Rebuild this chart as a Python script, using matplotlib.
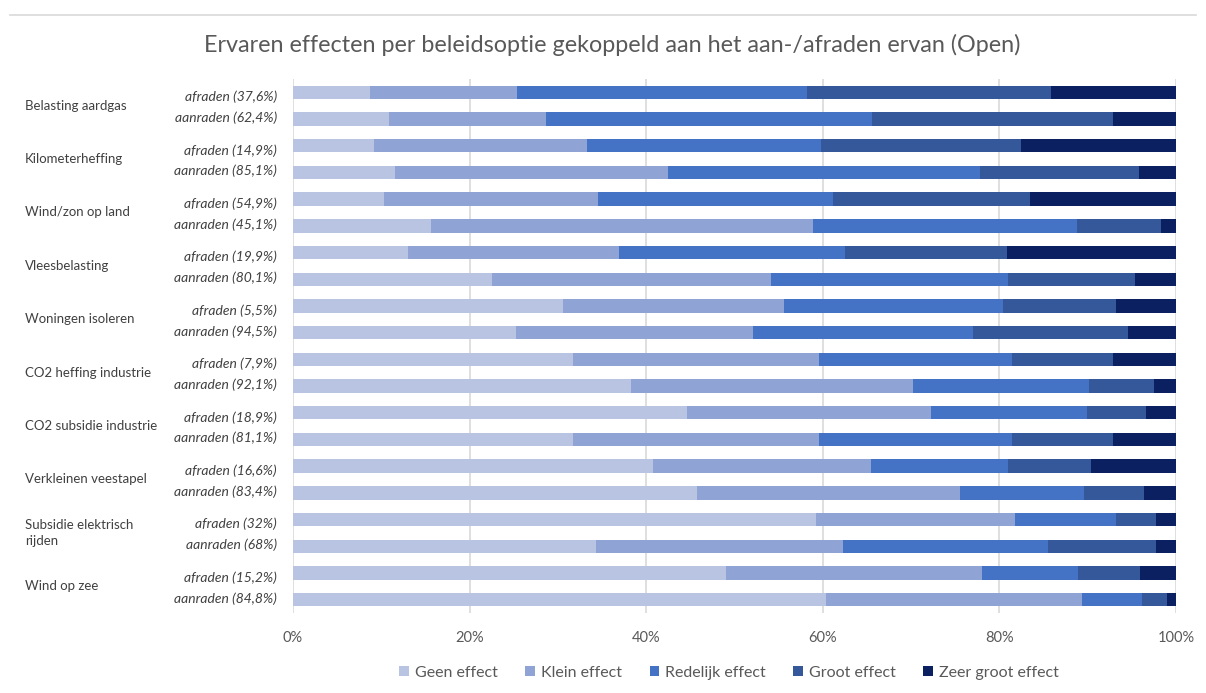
import matplotlib
matplotlib.use("Agg")
import matplotlib.pyplot as plt
import numpy as np
from matplotlib.lines import Line2D
from matplotlib.transforms import blended_transform_factory

plt.rcParams['font.family'] = ['Lato', 'DejaVu Sans']

categories = ["Belasting aardgas", "Kilometerheffing", "Wind/zon op land", "Vleesbelasting",
              "Woningen isoleren", "CO2 heffing industrie", "CO2 subsidie industrie",
              "Verkleinen veestapel", "Subsidie elektrisch\nrijden", "Wind op zee"]
afraden_labels = ["afraden (37,6%)", "afraden (14,9%)", "afraden (54,9%)", "afraden (19,9%)",
                  "afraden (5,5%)", "afraden (7,9%)", "afraden (18,9%)", "afraden (16,6%)",
                  "afraden (32%)", "afraden (15,2%)"]
aanraden_labels = ["aanraden (62,4%)", "aanraden (85,1%)", "aanraden (45,1%)", "aanraden (80,1%)",
                   "aanraden (94,5%)", "aanraden (92,1%)", "aanraden (81,1%)", "aanraden (83,4%)",
                   "aanraden (68%)", "aanraden (84,8%)"]
series_names = ["Geen effect", "Klein effect", "Redelijk effect", "Groot effect", "Zeer groot effect"]
tick_values = [0, 20, 40, 60, 80, 100]

# values per bar (top to bottom: afraden, aanraden for each category), in %
geen = [8.7, 10.9, 9.2, 11.6, 10.3, 15.6, 13.0, 22.5, 30.6, 25.3,
        31.7, 38.3, 44.6, 31.7, 40.8, 45.8, 59.2, 34.3, 49.0, 60.4]
klein = [16.7, 17.8, 24.1, 30.9, 24.2, 43.3, 23.9, 31.6, 25.0, 26.8,
         27.9, 31.9, 27.6, 27.9, 24.7, 29.7, 22.6, 28.0, 29.0, 29.0]
redelijk = [32.8, 36.9, 26.5, 35.3, 26.6, 29.9, 25.6, 26.9, 24.8, 24.9,
            21.8, 19.9, 17.7, 21.8, 15.5, 14.1, 11.4, 23.2, 10.9, 6.7]
groot = [27.6, 27.3, 22.6, 18.0, 22.4, 9.5, 18.4, 14.4, 12.8, 17.6,
         11.5, 7.4, 6.7, 11.5, 9.4, 6.8, 4.5, 12.2, 7.0, 2.9]
zeer_groot = [14.2, 7.1, 17.6, 4.2, 16.5, 1.7, 19.1, 4.6, 6.8, 5.4,
              7.1, 2.5, 3.4, 7.1, 9.6, 3.6, 2.3, 2.3, 4.1, 1.0]

colors = ["#B9C3E2", "#8FA3D4", "#4472C4", "#35589A", "#0A2060"]
text_grey = "#595959"

W, H = 1206, 693
fig = plt.figure(figsize=(W / 100, H / 100), dpi=100)
ax = fig.add_axes([293 / W, 1 - 613 / H, (1176 - 293) / W, (613 - 79) / H])

n = len(geen)
y = np.arange(n)
left = np.zeros(n)
for vals, c, name in zip([geen, klein, redelijk, groot, zeer_groot], colors, series_names):
    v = np.array(vals)
    ax.barh(y, v, left=left, height=0.5, color=c, label=name, linewidth=0, zorder=3)
    left += v

ax.set_xlim(0, 100)
ax.set_ylim(n - 0.5, -0.5)
ax.set_xticks(tick_values)
ax.set_xticklabels([f"{t}%" for t in tick_values], color=text_grey, fontsize=10.5)
ax.tick_params(axis='x', length=0, pad=13)
ax.set_yticks([])
for s in ax.spines.values():
    s.set_visible(False)
ax.xaxis.grid(True, color="#D9D9D9", linewidth=1.2, zorder=0)
ax.set_axisbelow(True)

tr = blended_transform_factory(fig.transFigure, ax.transData)
for i, cat in enumerate(categories):
    gc = 2 * i + 0.5
    ax.text(25 / W, gc, cat, transform=tr, ha='left', va='center', fontsize=9.5,
            color="#404040", linespacing=1.45, clip_on=False)
    ax.text(277 / W, gc - 0.33, afraden_labels[i], transform=tr, ha='right', va='center',
            fontsize=10, style='italic', color="#404040", clip_on=False)
    ax.text(277 / W, gc + 0.45, aanraden_labels[i], transform=tr, ha='right', va='center',
            fontsize=10, style='italic', color="#404040", clip_on=False)

fig.text(612 / W, 1 - 45 / H, "Ervaren effecten per beleidsoptie gekoppeld aan het aan-/afraden ervan (Open)",
         ha='center', va='center', fontsize=16.8, color=text_grey)

# top border line
fig.add_artist(Line2D([10 / W, 1196 / W], [1 - 14.5 / H, 1 - 14.5 / H], transform=fig.transFigure,
                      color="#D9D9D9", linewidth=1.2))

leg = fig.legend(loc='center', bbox_to_anchor=(729 / W, 1 - 673 / H), ncol=5, frameon=False,
                 fontsize=11.5, handlelength=0.6, handleheight=0.6, handletextpad=0.35,
                 columnspacing=1.75, labelcolor=text_grey)

fig.savefig("out.png", dpi=100, facecolor="white")
